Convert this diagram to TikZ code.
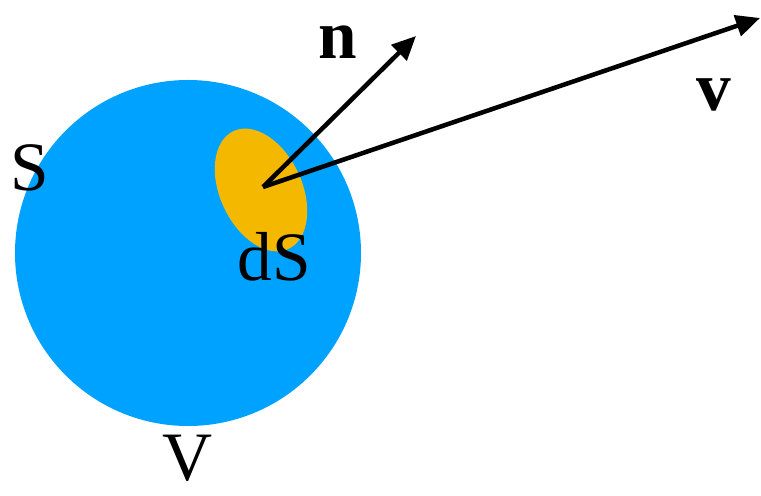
\documentclass[tikz,border=0pt]{standalone}
\usepackage{fontspec}
\setmainfont{Liberation Serif}
\usepackage{tikz}
\usetikzlibrary{arrows.meta}
\definecolor{ballblue}{RGB}{0,162,255}
\definecolor{patchorange}{RGB}{245,184,0}

\begin{document}
\begin{tikzpicture}[
  x=0.75pt, y=0.75pt,
  lbl/.style={inner sep=0pt, font=\fontsize{52}{60}\selectfont},
  arrow/.style={-{Triangle[length=18pt, width=16pt]}, line width=3.4pt}
]
\useasboundingbox (0,0) rectangle (761,496);
\fill[ballblue] (188,243) circle[radius=173];
\fill[patchorange, rotate around={25:(261,306)}] (261,306) ellipse[x radius=41, y radius=65];
\coordinate (o) at (263,309);
\coordinate (ntip) at (416,460);
\coordinate (vtip) at (760,478);
\draw[arrow] (o) -- (ntip);
\draw[arrow] (o) -- (vtip);
\node[lbl] (n) at (338,454) {\textbf{n}};
\node[lbl] (v) at (714,401) {\textbf{v}};
\node[lbl] (s) at (30,328) {S};
\node[lbl] (ds) at (274,239) {dS};
\node[lbl] (vol) at (188,38) {V};
\end{tikzpicture}
\end{document}
